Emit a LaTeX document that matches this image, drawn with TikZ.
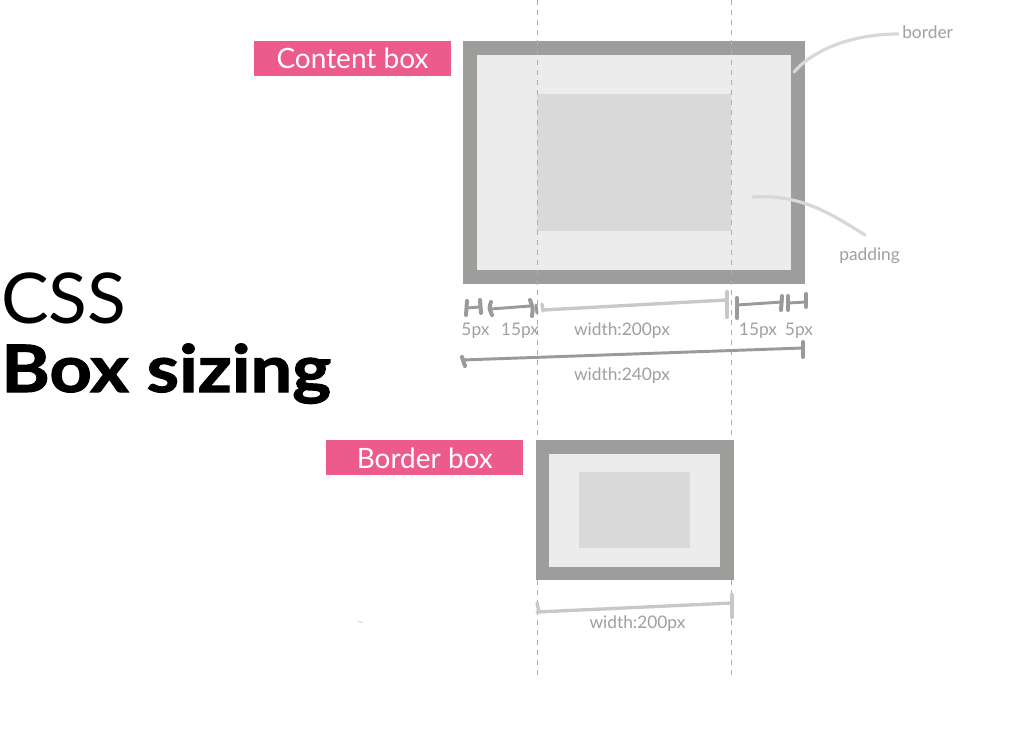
\documentclass[tikz,border=0pt]{standalone}
\usepackage{fontspec}
\setmainfont{Lato}
\newfontfamily\heavyfont{Lato}[BoldFeatures={FakeBold=1.6}]
\definecolor{bordergray}{HTML}{9D9D9C}
\definecolor{padgray}{HTML}{ECECEC}
\definecolor{contentgray}{HTML}{D9D9D9}
\definecolor{tagpink}{HTML}{EC5B8C}
\definecolor{dashgray}{HTML}{ADADAD}
\definecolor{textgray}{HTML}{A0A0A0}
\definecolor{markdark}{HTML}{9A9A9A}
\definecolor{marklight}{HTML}{C8C8C8}
\definecolor{annotgray}{HTML}{D8D8D8}
\begin{document}
\begin{tikzpicture}[x=0.75pt,y=-0.75pt,
  tagbox/.style={fill=tagpink,text=white,minimum width=147.75pt,minimum height=26.25pt,inner sep=0pt,font=\fontsize{21}{21}\selectfont},
  small/.style={text=textgray,inner sep=0pt,font=\fontsize{13}{13}\selectfont,anchor=base},
  guide/.style={draw=dashgray,line width=0.75pt,dash pattern=on 3.75pt off 3.75pt},
  darkmark/.style={draw=markdark,line width=2.2pt,line cap=round},
  darktick/.style={draw=markdark,line width=3pt,line cap=round},
  lightmark/.style={draw=marklight,line width=2.5pt,line cap=round},
  annot/.style={draw=annotgray,line width=2.4pt,line cap=round}]
\useasboundingbox (0,0) rectangle (1024,756);
\fill[white] (0,0) rectangle (1024,756);

% content box model
\fill[bordergray] (463,41) rectangle (805,284);
\fill[padgray] (477,55) rectangle (791,270);
\fill[contentgray] (537,94) rectangle (731,231);

% guides
\coordinate (g1t) at (537,0);
\coordinate (g1b) at (537,678);
\coordinate (g2t) at (731,0);
\coordinate (g2b) at (731,678);
\draw[guide] (g1t) -- (g1b);
\draw[guide] (g2t) -- (g2b);

% border box model
\fill[bordergray] (536,440) rectangle (734,580);
\fill[padgray] (549,454) rectangle (720,567);
\fill[contentgray] (579,472) rectangle (690,548);

% tags
\node[tagbox] (tagcontent) at (352.5,58.8) {Content box};
\node[tagbox] (tagborder) at (424.8,457.8) {Border box};

% title
\node[anchor=base west,inner sep=0pt,font=\fontsize{52.5}{52.5}\selectfont] (css) at (1,323) {\scalebox{1.02}[1]{CSS}};
\node[anchor=base west,inner sep=0pt,font=\fontsize{49}{49}\selectfont\heavyfont\bfseries] (boxsizing) at (1,392) {\scalebox{1.13}[1]{Box sizing}};

% annotations
\node[small,anchor=base west] (lborder) at (902,39) {border};
\node[small,anchor=base west] (lpadding) at (839,260) {padding};
\coordinate (aborder) at (794,72);
\coordinate (apadding) at (753,197);
\draw[annot] ([xshift=-3pt,yshift=-1pt]lborder.west) .. controls (855,34) and (815,48) .. (aborder);
\draw[annot] (apadding) .. controls (800,194) and (830,213) .. (865,235);

% dimension marks (content box)
\draw[darktick] (467,301) -- (466,315);
\draw[darktick] (480,300) -- (481,313);
\draw[darkmark] (467,308) -- (480,307);
\draw[darktick] (491,302) .. controls (489,308) .. (492,315);
\draw[darkmark] (491,309) -- (530,306);
\draw[darktick] (530,300) .. controls (533,308) .. (532,316);
\draw[darkmark] (536,305) -- (537,313);
\draw[lightmark] (542,304) -- (543,311);
\draw[lightmark] (543,310) -- (727,300);
\draw[lightmark,line width=3.2pt] (727,292) -- (727,317);
\draw[darktick] (737,298) -- (737,318);
\draw[darkmark] (737,305) -- (782,302);
\draw[darktick] (782,296) -- (781,310);
\draw[darktick] (788,296) -- (788,310);
\draw[darktick] (806,294) -- (806,307);
\draw[darkmark] (788,303) -- (806,302);
\draw[darkmark] (462,360) -- (803,348);
\draw[darktick] (803,342) -- (803,357);
\draw[darktick] (462,357) -- (465,366);

\node[small] (t5a) at (475.5,335) {5px};
\node[small] (t15a) at (520,335) {15px};
\node[small] (tw200) at (622,335) {width:200px};
\node[small] (t15b) at (758,335) {15px};
\node[small] (t5b) at (799,335) {5px};
\node[small] (tw240) at (622,380) {width:240px};

% dimension marks (border box)
\draw[lightmark] (537,612) -- (732,603);
\draw[lightmark,line width=3.2pt] (732,595) -- (732,617);
\draw[lightmark] (537,603) -- (539,612);
\node[small] (tw200b) at (637.5,628) {width:200px};

% stray mark
\draw[draw=annotgray,line width=0.8pt] (358,621) -- (363,623);
\end{tikzpicture}
\end{document}
